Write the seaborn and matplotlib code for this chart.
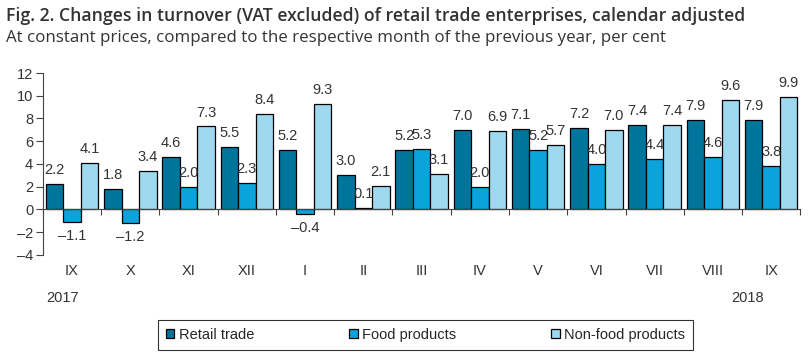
import pandas as pd
import matplotlib.pyplot as plt
import seaborn as sns

months = ['IX', 'X', 'XI', 'XII', 'I', 'II', 'III', 'IV', 'V', 'VI', 'VII', 'VIII', 'IX']
retail = [2.2, 1.8, 4.6, 5.5, 5.2, 3.0, 5.2, 7.0, 7.1, 7.2, 7.4, 7.9, 7.9]
food = [-1.1, -1.2, 2.0, 2.3, -0.4, 0.1, 5.3, 2.0, 5.2, 4.0, 4.4, 4.6, 3.8]
nonfood = [4.1, 3.4, 7.3, 8.4, 9.3, 2.1, 3.1, 6.9, 5.7, 7.0, 7.4, 9.6, 9.9]
series = ['Retail trade', 'Food products', 'Non-food products']
colors = ['#00759c', '#0aa3dc', '#9fd9f0']

# unique keys per month so the two IX don't merge
keys = [f'{i:02d}' for i in range(len(months))]
df = pd.DataFrame({
    'key': keys * 3,
    'value': retail + food + nonfood,
    'series': [s for s in series for _ in keys],
})

sns.set_style('white')
plt.rcParams['font.family'] = ['Liberation Sans', 'DejaVu Sans']

fig = plt.figure(figsize=(8.1, 3.58), dpi=100)
ax = fig.add_axes([0.053, 0.288, 0.935, 0.508])

sns.barplot(data=df, x='key', y='value', hue='series', order=keys, hue_order=series,
            palette=colors, edgecolor='black', linewidth=0.9, width=0.9, gap=0,
            saturation=1, ax=ax)

def fmt(v):
    return f'{v:.1f}'.replace('-', '\u2013')

for cont, vals in zip(ax.containers, [retail, food, nonfood]):
    ax.bar_label(cont, labels=[fmt(v) for v in vals], padding=5, fontsize=10.5, color='#333333')

ax.set_ylim(-4, 12)
ax.set_xlim(-0.5, len(months) - 0.5)
ax.set_yticks(range(-4, 13, 2))
ax.set_yticklabels([str(t).replace('-', '\u2013') for t in range(-4, 13, 2)], fontsize=10.5, color='#333333')
ax.tick_params(axis='y', direction='out', length=5, width=0.8, color='#444444', pad=2, left=True)

ax.spines['top'].set_visible(False)
ax.spines['right'].set_visible(False)
ax.spines['left'].set_color('#444444')
ax.spines['bottom'].set_position(('data', 0))
ax.spines['bottom'].set_color('#444444')

ax.set_xticks(range(len(months)))
ax.set_xticklabels(months, fontsize=10.5, color='#333333')
ax.set_xticks([i - 0.5 for i in range(len(months) + 1)], minor=True)
ax.tick_params(axis='x', which='major', length=0, pad=39)
ax.tick_params(axis='x', which='minor', direction='out', length=4, width=0.8, color='#444444', bottom=True)
ax.set_xlabel('')
ax.set_ylabel('')

ax.text(-0.17, -0.236, '2017', transform=ax.get_xaxis_transform(), ha='center', va='center',
        fontsize=10.5, color='#333333')
ax.text(11.6, -0.236, '2018', transform=ax.get_xaxis_transform(), ha='center', va='center',
        fontsize=10.5, color='#333333')

handles, labels = ax.get_legend_handles_labels()
leg = ax.legend(handles, labels, loc='center', bbox_to_anchor=(0.505, -0.44), ncol=3, frameon=True,
                fontsize=10.5, handlelength=0.6, handleheight=0.6, handletextpad=0.3, columnspacing=6.5,
                borderpad=0.55, fancybox=False)
leg.get_frame().set_edgecolor('black')
leg.get_frame().set_linewidth(0.8)

fig.text(0.007, 0.955, 'Fig. 2. Changes in turnover (VAT excluded) of retail trade enterprises, calendar adjusted',
         family=['Open Sans', 'DejaVu Sans'], fontweight='semibold', fontsize=12.7, color='#333333', va='center')
fig.text(0.007, 0.893, 'At constant prices, compared to the respective month of the previous year, per cent',
         family=['Open Sans', 'DejaVu Sans'], fontsize=12.2, color='#333333', va='center')

fig.savefig('out.png', dpi=100)
